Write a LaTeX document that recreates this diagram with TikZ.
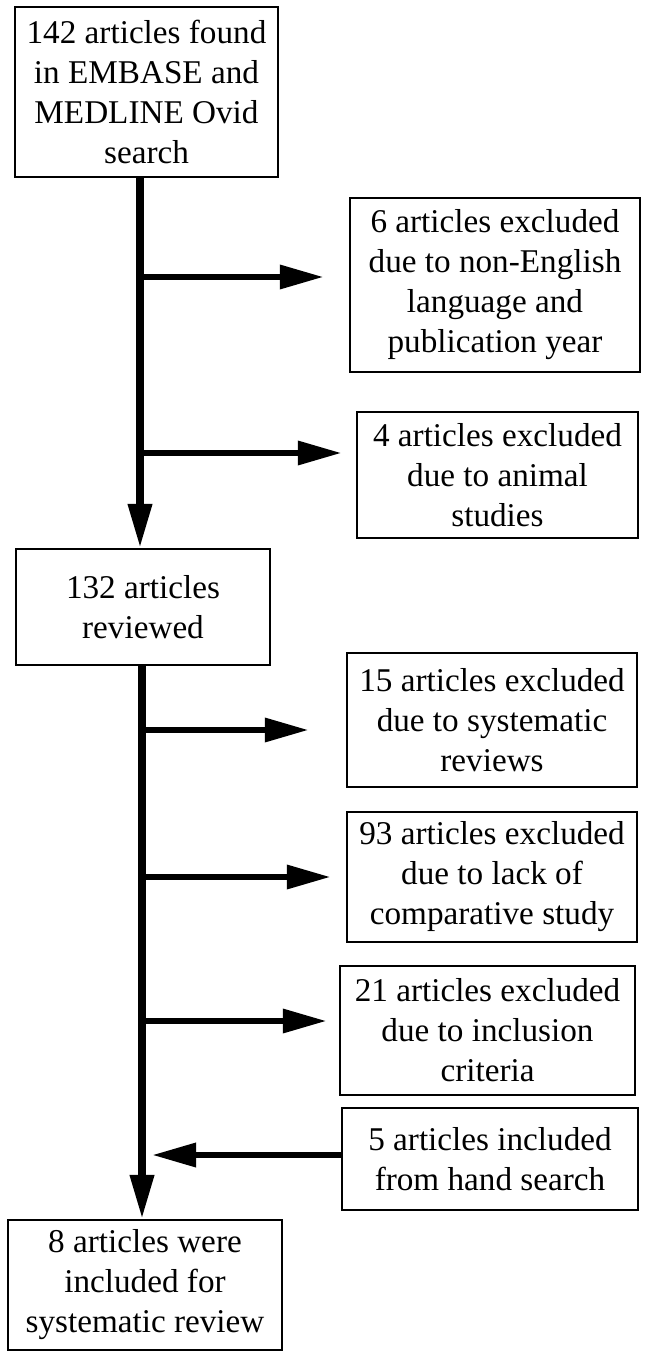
\documentclass[tikz,border=0pt]{standalone}
\usepackage{fontspec}
\setmainfont{Liberation Serif}
\usetikzlibrary{arrows.meta}
\begin{document}
\begin{tikzpicture}[x=0.5pt,y=-0.5pt,
  box/.style 2 args={draw=black, line width=1.25pt, inner sep=0pt, align=center,
    minimum width=#1*0.5pt, minimum height=#2*0.5pt,
    font=\fontsize{16.6pt}{20pt}\selectfont},
  flow/.style={line width=3.3pt, -{Triangle[length=22pt,width=11.5pt]}},
  trunk/.style={line width=3.6pt, -{Triangle[length=22pt,width=11.5pt]}}]
\useasboundingbox (0,0) rectangle (645,1352);
\node[box={263}{170}] (n1) at (146.5,92) {142 articles found\\in EMBASE and\\MEDLINE Ovid\\search};
\node[box={290}{174}] (n2) at (495,285) {6 articles excluded\\due to non-English\\language and\\publication year};
\node[box={281}{126}] (n3) at (497.5,475) {4 articles excluded\\due to animal\\studies};
\node[box={254}{116}] (n4) at (143,607) {132 articles\\reviewed};
\node[box={290}{134}] (n5) at (492,720) {15 articles excluded\\due to systematic\\reviews};
\node[box={290}{130}] (n6) at (492,877) {93 articles excluded\\due to lack of\\comparative study};
\node[box={295}{129}] (n7) at (487.5,1030.5) {21 articles excluded\\due to inclusion\\criteria};
\node[box={296}{102}] (n8) at (490,1159) {5 articles included\\from hand search};
\node[box={274}{130}] (n9) at (145,1285) {8 articles were\\included for\\systematic review};
% trunk 1
\coordinate (b1) at (140,277);
\coordinate (b2) at (140,453);
\draw[trunk] (n1.south -| b1) -- (n4.north -| b1);
\draw[flow, shorten >=12.5pt] (b1) -- (b1 -| n2.west);
\draw[flow, shorten >=7pt] (b2) -- (b2 -| n3.west);
% trunk 2
\coordinate (c1) at (142,730);
\coordinate (c2) at (142,877);
\coordinate (c3) at (142,1021);
\coordinate (h) at (142,1155);
\draw[trunk] (n4.south -| c1) -- (n9.north -| c1);
\draw[flow, shorten >=18.5pt] (c1) -- (c1 -| n5.west);
\draw[flow, shorten >=7.5pt] (c2) -- (c2 -| n6.west);
\draw[flow, shorten >=6pt] (c3) -- (c3 -| n7.west);
\draw[flow, shorten >=5pt] (h -| n8.west) -- (h);
\end{tikzpicture}
\end{document}
